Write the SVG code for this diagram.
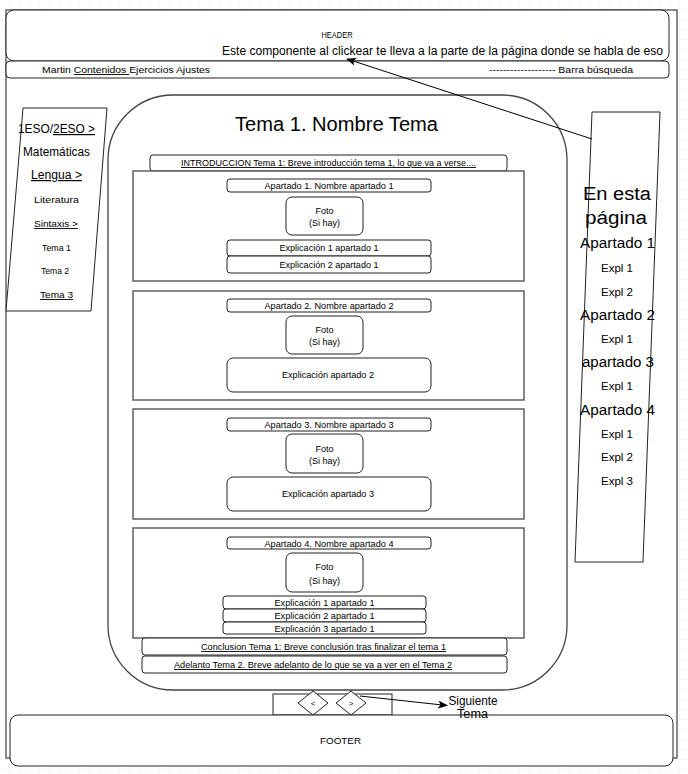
<svg xmlns="http://www.w3.org/2000/svg" width="688" height="774" viewBox="0 0 688 774">
<style>
.t{font-family:"Liberation Sans",Arial,sans-serif;fill:#000}
.s9{font-size:9px}
.s11{font-size:11px}
.s12{font-size:12px}
.s14{font-size:14px}
.m{text-anchor:middle}
.u{text-decoration:underline}
.bx{fill:#fff;stroke:#222;stroke-width:1}
.sec{fill:#fff;stroke:#555;stroke-width:1.4}
.ln{fill:none;stroke:#000;stroke-width:1}
</style>
<defs>
<pattern id="grid" width="10" height="10" patternUnits="userSpaceOnUse">
<path d="M10 0V10M0 10H10" fill="none" stroke="#efefef" stroke-width="1"/>
</pattern>
<marker id="ah" markerWidth="10" markerHeight="8" refX="9" refY="4" orient="auto" markerUnits="userSpaceOnUse">
<path d="M0 0L10 4L0 8L2.5 4Z" fill="#000"/>
</marker>
</defs>
<rect width="688" height="774" fill="#fff"/>
<rect width="688" height="774" fill="url(#grid)"/>

<g id="frame">
<rect x="6" y="10" width="671" height="748" fill="#fff" stroke="#666" stroke-width="1.5"/>
</g>

<g id="header">
<rect class="bx" x="6" y="10" width="663" height="51" rx="8"/>
<text class="t m" x="337" y="38" font-size="9.5" textLength="31" lengthAdjust="spacingAndGlyphs">HEADER</text>
<text class="t" x="222" y="55" font-size="12.5" textLength="441" lengthAdjust="spacingAndGlyphs">Este componente al clickear te lleva a la parte de la página donde se habla de eso</text>
</g>

<g id="navbar">
<rect class="bx" x="6" y="61" width="663" height="17" rx="4"/>
<text class="t s9" x="42" y="73" textLength="168" lengthAdjust="spacingAndGlyphs">Martin <tspan class="u">Contenidos </tspan>Ejercicios Ajustes</text>
<text class="t s9" x="489" y="73" textLength="144" lengthAdjust="spacingAndGlyphs">------------------- Barra búsqueda</text>
</g>

<g id="menu-izquierdo">
<polygon class="bx" points="23,108 107,108 91,311 6,311"/>
<text class="t s12 m" x="56.5" y="133" textLength="77" lengthAdjust="spacingAndGlyphs">1ESO/<tspan class="u">2ESO &gt;</tspan></text>
<text class="t s12 m" x="56.5" y="156" textLength="67" lengthAdjust="spacingAndGlyphs">Matemáticas</text>
<text class="t s12 m u" x="56.5" y="179" textLength="51" lengthAdjust="spacingAndGlyphs">Lengua &gt;</text>
<text class="t s9 m" x="56.5" y="203" textLength="45" lengthAdjust="spacingAndGlyphs">Literatura</text>
<text class="t s9 m u" x="56" y="227" textLength="44" lengthAdjust="spacingAndGlyphs">Sintaxis &gt;</text>
<text class="t s9 m" x="56.5" y="251" textLength="29" lengthAdjust="spacingAndGlyphs">Tema 1</text>
<text class="t s9 m" x="55" y="274" textLength="28" lengthAdjust="spacingAndGlyphs">Tema 2</text>
<text class="t s9 m u" x="56.5" y="298" textLength="33" lengthAdjust="spacingAndGlyphs">Tema 3</text>
</g>

<g id="contenido">
<rect x="108" y="95" width="459" height="595" rx="65" fill="#fff" stroke="#444" stroke-width="1.3"/>
<text class="t m" x="336.5" y="131" font-size="20" textLength="203" lengthAdjust="spacingAndGlyphs">Tema 1. Nombre Tema</text>
</g>

<g id="introduccion">
<rect class="bx" x="150" y="155" width="357" height="16" rx="3"/>
<text class="t s9 m u" x="328.5" y="166" textLength="295" lengthAdjust="spacingAndGlyphs">INTRODUCCION Tema 1: Breve introducción tema 1, lo que va a verse....</text>
</g>

<g id="apartado-1">
<rect class="sec" x="133" y="171" width="391" height="110"/>
<rect class="bx" x="227" y="179" width="204" height="13" rx="3"/>
<text class="t s9 m" x="329" y="189" textLength="129" lengthAdjust="spacingAndGlyphs">Apartado 1. Nombre apartado 1</text>
<rect class="bx" x="286" y="197" width="77" height="38" rx="6"/>
<text class="t s9 m" x="324.5" y="214">Foto</text>
<text class="t s9 m" x="324.5" y="225.5">(Si hay)</text>
<rect class="bx" x="227" y="240" width="204" height="16" rx="3"/>
<text class="t s9 m" x="329" y="251" textLength="99" lengthAdjust="spacingAndGlyphs">Explicación 1 apartado 1</text>
<rect class="bx" x="227" y="256" width="204" height="17" rx="3"/>
<text class="t s9 m" x="329" y="268" textLength="99" lengthAdjust="spacingAndGlyphs">Explicación 2 apartado 1</text>
</g>

<g id="apartado-2">
<rect class="sec" x="133" y="291" width="391" height="109"/>
<rect class="bx" x="227" y="299" width="204" height="13" rx="3"/>
<text class="t s9 m" x="329" y="309" textLength="129" lengthAdjust="spacingAndGlyphs">Apartado 2. Nombre apartado 2</text>
<rect class="bx" x="286" y="316" width="77" height="38" rx="6"/>
<text class="t s9 m" x="324.5" y="333">Foto</text>
<text class="t s9 m" x="324.5" y="344.5">(Si hay)</text>
<rect class="bx" x="227" y="358" width="204" height="34" rx="6"/>
<text class="t s9 m" x="328" y="378" textLength="92" lengthAdjust="spacingAndGlyphs">Explicación apartado 2</text>
</g>

<g id="apartado-3">
<rect class="sec" x="133" y="409" width="391" height="110"/>
<rect class="bx" x="227" y="418" width="204" height="13" rx="3"/>
<text class="t s9 m" x="329" y="428" textLength="129" lengthAdjust="spacingAndGlyphs">Apartado 3. Nombre apartado 3</text>
<rect class="bx" x="286" y="434" width="77" height="39" rx="6"/>
<text class="t s9 m" x="324.5" y="451.5">Foto</text>
<text class="t s9 m" x="324.5" y="463.5">(Si hay)</text>
<rect class="bx" x="227" y="477" width="204" height="34" rx="6"/>
<text class="t s9 m" x="328" y="497" textLength="92" lengthAdjust="spacingAndGlyphs">Explicación apartado 3</text>
</g>

<g id="apartado-4">
<rect class="sec" x="133" y="528" width="391" height="110"/>
<rect class="bx" x="227" y="537" width="204" height="12" rx="3"/>
<text class="t s9 m" x="329" y="546.5" textLength="129" lengthAdjust="spacingAndGlyphs">Apartado 4. Nombre apartado 4</text>
<rect class="bx" x="286" y="553" width="77" height="39" rx="6"/>
<text class="t s9 m" x="324.5" y="570">Foto</text>
<text class="t s9 m" x="324.5" y="583.5">(Si hay)</text>
<rect class="bx" x="223" y="596" width="203" height="13" rx="3"/>
<text class="t s9 m" x="324.5" y="606" textLength="100" lengthAdjust="spacingAndGlyphs">Explicación 1 apartado 1</text>
<rect class="bx" x="223" y="609" width="203" height="13" rx="3"/>
<text class="t s9 m" x="324.5" y="619" textLength="100" lengthAdjust="spacingAndGlyphs">Explicación 2 apartado 1</text>
<rect class="bx" x="223" y="622" width="203" height="12" rx="3"/>
<text class="t s9 m" x="324.5" y="631.5" textLength="100" lengthAdjust="spacingAndGlyphs">Explicación 3 apartado 1</text>
</g>

<g id="conclusion">
<rect class="bx" x="142" y="638" width="365" height="17" rx="3"/>
<text class="t s9 m u" x="323.5" y="650" textLength="245" lengthAdjust="spacingAndGlyphs">Conclusion Tema 1: Breve conclusión tras finalizar el tema 1</text>
</g>

<g id="adelanto">
<rect class="bx" x="142" y="656" width="365" height="17" rx="3"/>
<text class="t s9 m u" x="313" y="668" textLength="278" lengthAdjust="spacingAndGlyphs">Adelanto Tema 2. Breve adelanto de lo que se va a ver en el Tema 2</text>
</g>

<g id="en-esta-pagina">
<polygon class="bx" points="592,112 660,112 643,562 575,562"/>
<text class="t m" x="617" y="200" font-size="18" textLength="68" lengthAdjust="spacingAndGlyphs">En esta</text>
<text class="t m" x="616" y="224" font-size="18" textLength="62" lengthAdjust="spacingAndGlyphs">página</text>
<text class="t s14 m" x="617.5" y="248" textLength="75" lengthAdjust="spacingAndGlyphs">Apartado 1</text>
<text class="t s11 m" x="617" y="272" textLength="32" lengthAdjust="spacingAndGlyphs">Expl 1</text>
<text class="t s11 m" x="617" y="296" textLength="32" lengthAdjust="spacingAndGlyphs">Expl 2</text>
<text class="t s14 m" x="617.5" y="320" textLength="75" lengthAdjust="spacingAndGlyphs">Apartado 2</text>
<text class="t s11 m" x="617" y="343" textLength="32" lengthAdjust="spacingAndGlyphs">Expl 1</text>
<text class="t s14 m" x="618" y="367" textLength="72" lengthAdjust="spacingAndGlyphs">apartado 3</text>
<text class="t s11 m" x="617" y="390" textLength="32" lengthAdjust="spacingAndGlyphs">Expl 1</text>
<text class="t s14 m" x="617.5" y="415" textLength="75" lengthAdjust="spacingAndGlyphs">Apartado 4</text>
<text class="t s11 m" x="617" y="438" textLength="32" lengthAdjust="spacingAndGlyphs">Expl 1</text>
<text class="t s11 m" x="617" y="461" textLength="32" lengthAdjust="spacingAndGlyphs">Expl 2</text>
<text class="t s11 m" x="617" y="485" textLength="32" lengthAdjust="spacingAndGlyphs">Expl 3</text>
</g>

<g id="navegacion">
<rect class="bx" x="273" y="694" width="119" height="21"/>
</g>

<g id="footer">
<rect class="bx" x="10" y="715" width="663" height="51" rx="8"/>
<text class="t m" x="340.5" y="744" font-size="9.5" textLength="41" lengthAdjust="spacingAndGlyphs">FOOTER</text>
</g>

<g id="anterior">
<polygon class="bx" points="313,691 328,703 313,715 298,703"/>
<text class="t m" x="313" y="706" font-size="8">&lt;</text>
</g>

<g id="siguiente">
<polygon class="bx" points="351,691 366,703 351,715 336,703"/>
<text class="t m" x="351" y="706" font-size="8">&gt;</text>
</g>

<g id="connectors">
<line class="ln" x1="592" y1="139" x2="347" y2="59" marker-end="url(#ah)"/>
<line class="ln" x1="360" y1="696" x2="447" y2="705.5" marker-end="url(#ah)"/>
</g>

<g id="siguiente-tema">
<text class="t m" x="473" y="705" font-size="12.5" textLength="49" lengthAdjust="spacingAndGlyphs">Siguiente</text>
<text class="t m" x="472.5" y="718" font-size="12.5" textLength="31" lengthAdjust="spacingAndGlyphs">Tema</text>
</g>
</svg>
